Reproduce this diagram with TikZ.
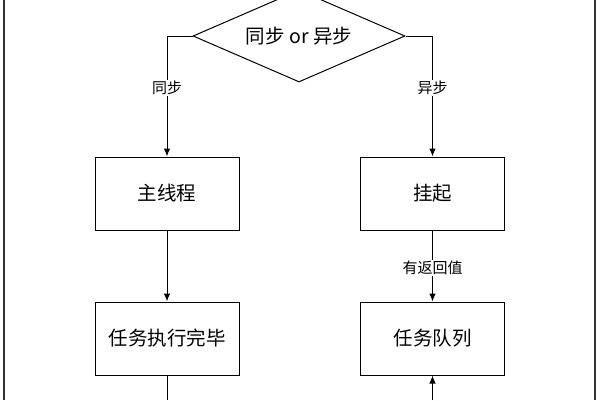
\documentclass[tikz,border=0pt]{standalone}
\usepackage{fontspec}
\setmainfont{Noto Sans CJK SC}
\usetikzlibrary{shapes.geometric,arrows.meta}
\begin{document}
\begin{tikzpicture}[x=1pt,y=-1pt,
  line width=1pt,
  box/.style={draw, minimum width=144pt, minimum height=73pt, font=\fontsize{19.5}{22}\selectfont, inner sep=0pt},
  lbl/.style={fill=white, font=\fontsize{15}{17}\selectfont, inner sep=1.5pt},
  arr/.style={-{Latex[length=8pt,width=6.5pt]}}]
\useasboundingbox (0,0) rectangle (600,400);
\draw[line width=1.4pt, black!80] (4,0) -- (4,400);
\draw[line width=1.4pt, black!80] (595,0) -- (595,400);
\node[draw, shape=diamond, shape aspect=2.3, minimum width=212pt, minimum height=92pt, inner sep=0pt, font=\fontsize{19.5}{22}\selectfont] (d) at (299,36) {同步 or 异步};
\node[box] (b1) at (167,193.5) {主线程};
\node[box] (b2) at (432.5,193.5) {挂起};
\node[box] (b3) at (167,338.5) {任务执行完毕};
\node[box] (b4) at (432.5,338.5) {任务队列};
\coordinate (e3) at (167,400);
\coordinate (e4) at (432.5,400);
\draw[arr] (d.west) -| (b1.north);
\draw[arr] (d.east) -| (b2.north);
\draw[arr] (b1.south) -- (b3.north);
\draw[arr] (b2.south) -- (b4.north);
\draw (b3.south) -- (e3);
\draw[arr] (e4) -- (b4.south);
\node[lbl] (l1) at (167,88) {同步};
\node[lbl] (l2) at (432.5,88) {异步};
\node[lbl] (l3) at (432.5,268) {有返回值};
\end{tikzpicture}
\end{document}
